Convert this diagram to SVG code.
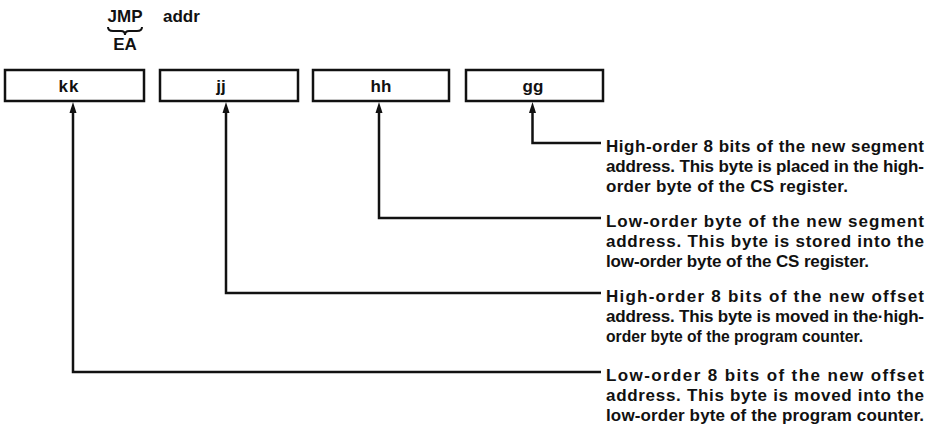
<svg xmlns="http://www.w3.org/2000/svg" width="932" height="427" viewBox="0 0 932 427">
<style>
  .t { font-family: "Liberation Sans", Arial, sans-serif; font-weight: bold; font-size: 17px; fill: #111; }
  .h { font-family: "Liberation Sans", Arial, sans-serif; font-weight: bold; font-size: 17px; fill: #111; }
  .box { fill: #fff; stroke: #111; stroke-width: 2.5; }
  .ln { fill: none; stroke: #111; stroke-width: 2.5; }
  .ah { fill: #111; }
</style>
<rect width="932" height="427" fill="#fff"/>
<g id="header">
  <text class="h" x="125" y="22" text-anchor="middle">JMP</text>
  <path d="M108,27 Q108,31 113,31 L121,31 Q125,31 125,35 Q125,31 129,31 L137,31 Q142,31 142,27" fill="none" stroke="#111" stroke-width="2"/>
  <text class="h" x="125" y="50" text-anchor="middle">EA</text>
  <text class="h" x="163" y="22">addr</text>
</g>
<g id="node-kk">
  <rect class="box" x="5" y="70" width="139" height="31"/>
  <text class="h" x="69" y="92" text-anchor="middle" letter-spacing="1">kk</text>
</g>
<g id="node-jj">
  <rect class="box" x="160" y="70" width="138" height="31"/>
  <text class="h" x="221" y="92" text-anchor="middle">jj</text>
</g>
<g id="node-hh">
  <rect class="box" x="313" y="70" width="136" height="31"/>
  <text class="h" x="381" y="92" text-anchor="middle">hh</text>
</g>
<g id="node-gg">
  <rect class="box" x="466" y="70" width="137" height="31"/>
  <text class="h" x="533" y="92" text-anchor="middle">gg</text>
</g>
<g id="connectors">
  <polyline class="ln" points="532.5,110 532.5,143 601,143"/>
  <polygon class="ah" points="532.5,102 529,113 536,113"/>
  <polyline class="ln" points="379,110 379,218 601,218"/>
  <polygon class="ah" points="379,102 375.5,113 382.5,113"/>
  <polyline class="ln" points="226,110 226,293 601,293"/>
  <polygon class="ah" points="226,102 222.5,113 229.5,113"/>
  <polyline class="ln" points="73,110 73,372 601,372"/>
  <polygon class="ah" points="73,102 69.5,113 76.5,113"/>
</g>
<g id="desc-gg">
  <text class="t" x="606" y="152" textLength="318" lengthAdjust="spacing">High-order 8 bits of the new segment</text>
  <text class="t" x="606" y="172" textLength="318" lengthAdjust="spacing">address. This byte is placed in the high-</text>
  <text class="t" x="606" y="192" textLength="242" lengthAdjust="spacing">order byte of the CS register.</text>
</g>
<g id="desc-hh">
  <text class="t" x="606" y="227" textLength="318" lengthAdjust="spacing">Low-order byte of the new segment</text>
  <text class="t" x="606" y="247" textLength="318" lengthAdjust="spacing">address. This byte is stored into the</text>
  <text class="t" x="606" y="267" textLength="263" lengthAdjust="spacing">low-order byte of the CS register.</text>
</g>
<g id="desc-jj">
  <text class="t" x="606" y="302" textLength="318" lengthAdjust="spacing">High-order 8 bits of the new offset</text>
  <text class="t" x="606" y="322" textLength="318" lengthAdjust="spacing">address. This byte is moved in the·high-</text>
  <text class="t" x="606" y="342" textLength="257" lengthAdjust="spacingAndGlyphs">order byte of the program counter.</text>
</g>
<g id="desc-kk">
  <text class="t" x="606" y="381" textLength="318" lengthAdjust="spacing">Low-order 8 bits of the new offset</text>
  <text class="t" x="606" y="401" textLength="318" lengthAdjust="spacing">address. This byte is moved into the</text>
  <text class="t" x="606" y="421" textLength="318" lengthAdjust="spacing">low-order byte of the program counter.</text>
</g>
</svg>
